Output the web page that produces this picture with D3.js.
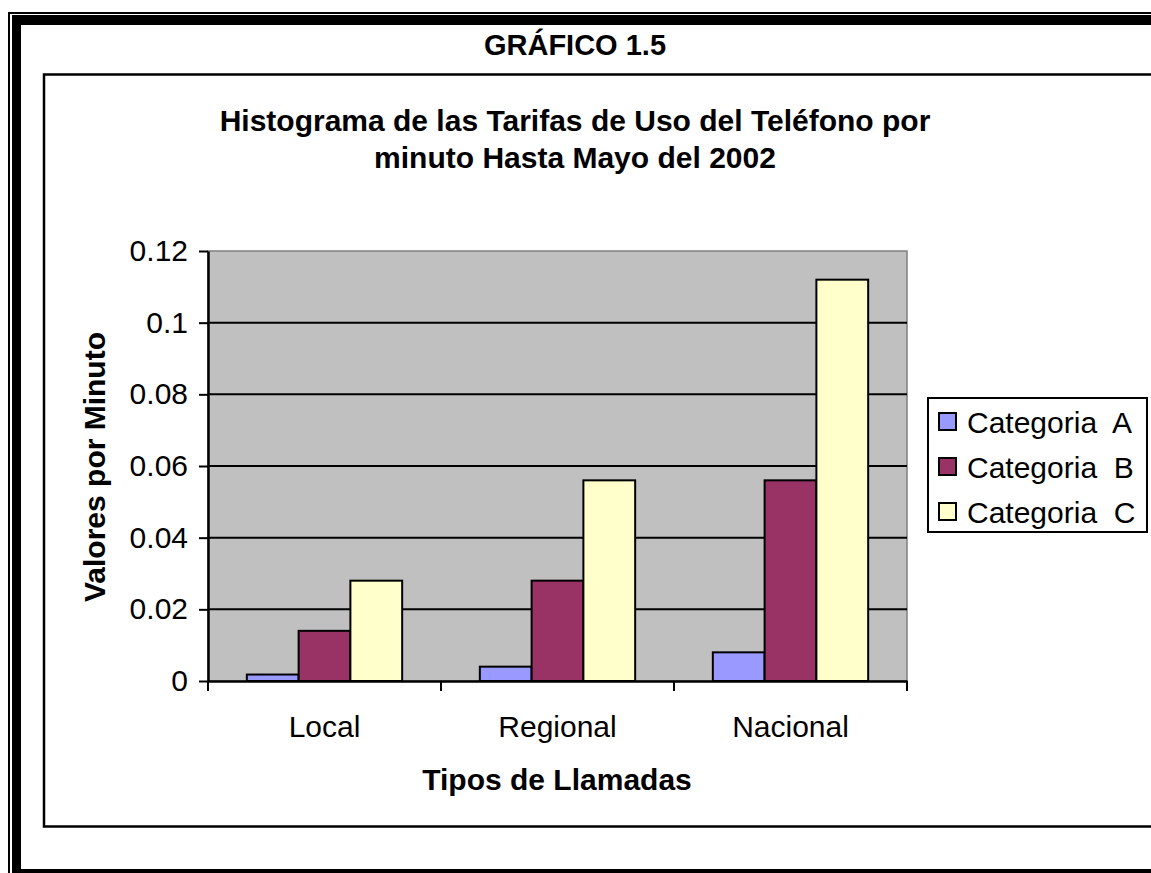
<!DOCTYPE html>
<html lang="es">
<head>
<meta charset="utf-8">
<title>Gráfico 1.5</title>
<script src="https://d3js.org/d3.v7.min.js"></script>
<style>
  body { margin: 0; background: #fff; }
  svg { display: block; font-family: "Liberation Sans", Arial, sans-serif; }
  .legend text { white-space: pre; }
</style>
</head>
<body>
<script>
// data
const categories = ["Local", "Regional", "Nacional"];
const seriesNames = ["Categoria  A", "Categoria  B", "Categoria  C"];
const serieA = [0.0018, 0.004, 0.008];
const serieB = [0.014, 0.028, 0.056];
const serieC = [0.028, 0.056, 0.112];
const seriesColors = ["#9999FF", "#993366", "#FFFFCC"];
const yTicks = [0, 0.02, 0.04, 0.06, 0.08, 0.1, 0.12];
const yTickLabels = ["0", "0.02", "0.04", "0.06", "0.08", "0.1", "0.12"];

const series = [serieA, serieB, serieC];
const fs = 30;

let w = 1151, h = 873;
let svg = d3.select("body").append("svg")
    .attr("width", w)
    .attr("height", h);

// outer page frame (thin + thick lines, left / top / bottom)
svg.append("rect").attr("x", 8).attr("y", 12).attr("width", 2).attr("height", h - 12).attr("fill", "#000");
svg.append("rect").attr("x", 8).attr("y", 12).attr("width", w - 8).attr("height", 2).attr("fill", "#000");
svg.append("rect").attr("x", 12).attr("y", 15).attr("width", 9).attr("height", h - 15).attr("fill", "#000");
svg.append("rect").attr("x", 12).attr("y", 15).attr("width", w - 12).attr("height", 10).attr("fill", "#000");
svg.append("rect").attr("x", 12).attr("y", 869).attr("width", w - 12).attr("height", 4).attr("fill", "#000");

svg.append("text")
    .attr("x", 575).attr("y", 55)
    .attr("text-anchor", "middle")
    .attr("font-size", 29).attr("font-weight", "bold")
    .text("GRÁFICO 1.5");

// chart box
svg.append("rect")
    .attr("x", 44).attr("y", 74.5)
    .attr("width", w + 10).attr("height", 752)
    .attr("fill", "#fff").attr("stroke", "#000").attr("stroke-width", 2.5);

let title = svg.append("text")
    .attr("text-anchor", "middle")
    .attr("font-size", fs).attr("font-weight", "bold");
title.append("tspan").attr("x", 575).attr("y", 131).text("Histograma de las Tarifas de Uso del Teléfono por");
title.append("tspan").attr("x", 575).attr("y", 168).text("minuto Hasta Mayo del 2002");

// plot
let x0 = d3.scaleBand().domain(categories).range([208, 907]);
let x1 = d3.scaleBand().domain(d3.range(series.length)).range([0, x0.bandwidth()]).paddingOuter(0.75);
let y = d3.scaleLinear().domain([0, 0.12]).range([681, 251]);

svg.append("rect")
    .attr("x", 208).attr("y", y(0.12))
    .attr("width", 907 - 208).attr("height", y(0) - y(0.12))
    .attr("fill", "#C0C0C0").attr("stroke", "#808080").attr("stroke-width", 1.5);

svg.append("g").selectAll("line")
    .data(yTicks.filter(d => d > 0 && d < 0.12))
    .enter().append("line")
    .attr("x1", 208).attr("x2", 907)
    .attr("y1", d => y(d)).attr("y2", d => y(d))
    .attr("stroke", "#000").attr("stroke-width", 2);

// bars
let groups = svg.append("g").selectAll("g")
    .data(categories)
    .enter().append("g")
    .attr("transform", d => `translate(${x0(d)},0)`);

groups.selectAll("rect")
    .data((c, ci) => series.map((s, si) => ({ si: si, v: s[ci] })))
    .enter().append("rect")
    .attr("x", d => x1(d.si))
    .attr("y", d => y(d.v))
    .attr("width", x1.bandwidth())
    .attr("height", d => y(0) - y(d.v))
    .attr("fill", d => seriesColors[d.si])
    .attr("stroke", "#000").attr("stroke-width", 2);

// axes
let yAxis = d3.axisLeft(y)
    .tickValues(yTicks)
    .tickFormat((d, i) => yTickLabels[i])
    .tickSizeInner(9).tickSizeOuter(0).tickPadding(11);
let gy = svg.append("g").attr("transform", "translate(208,0)").call(yAxis);
gy.select(".domain").attr("stroke", "#000").attr("stroke-width", 2.5);
gy.selectAll(".tick line").attr("stroke", "#000").attr("stroke-width", 2);
gy.selectAll("text").attr("font-size", fs).attr("font-family", null).attr("fill", "#000");

let xAxis = d3.axisBottom(x0).tickSize(0).tickPadding(0);
let gx = svg.append("g").attr("transform", "translate(0,681)").call(xAxis);
gx.select(".domain").attr("stroke", "#000").attr("stroke-width", 2.5);
gx.selectAll("text")
    .attr("font-size", fs).attr("font-family", null).attr("fill", "#000")
    .attr("dy", null).attr("y", 56);
// category separators
svg.append("g").selectAll("line")
    .data(categories.map(c => x0(c)).concat([907]))
    .enter().append("line")
    .attr("x1", d => d).attr("x2", d => d)
    .attr("y1", 681).attr("y2", 691)
    .attr("stroke", "#000").attr("stroke-width", 2);

svg.append("text")
    .attr("x", 557).attr("y", 790)
    .attr("text-anchor", "middle")
    .attr("font-size", fs).attr("font-weight", "bold")
    .text("Tipos de Llamadas");

svg.append("text")
    .attr("transform", "translate(105,467) rotate(-90)")
    .attr("text-anchor", "middle")
    .attr("font-size", fs).attr("font-weight", "bold")
    .text("Valores por Minuto");

// legend
let legend = svg.append("g").attr("class", "legend");
legend.append("rect")
    .attr("x", 928).attr("y", 398).attr("width", 219).attr("height", 134)
    .attr("fill", "#fff").attr("stroke", "#000").attr("stroke-width", 2);
let items = legend.selectAll("g.item")
    .data(seriesNames)
    .enter().append("g").attr("class", "item")
    .attr("transform", (d, i) => `translate(0,${433 + i * 45})`);
items.append("rect")
    .attr("x", 939).attr("y", -20).attr("width", 17).attr("height", 17)
    .attr("fill", (d, i) => seriesColors[i])
    .attr("stroke", "#000").attr("stroke-width", 2);
items.append("text")
    .attr("x", 967).attr("y", 0)
    .attr("font-size", fs)
    .text(d => d);
</script>
</body>
</html>
